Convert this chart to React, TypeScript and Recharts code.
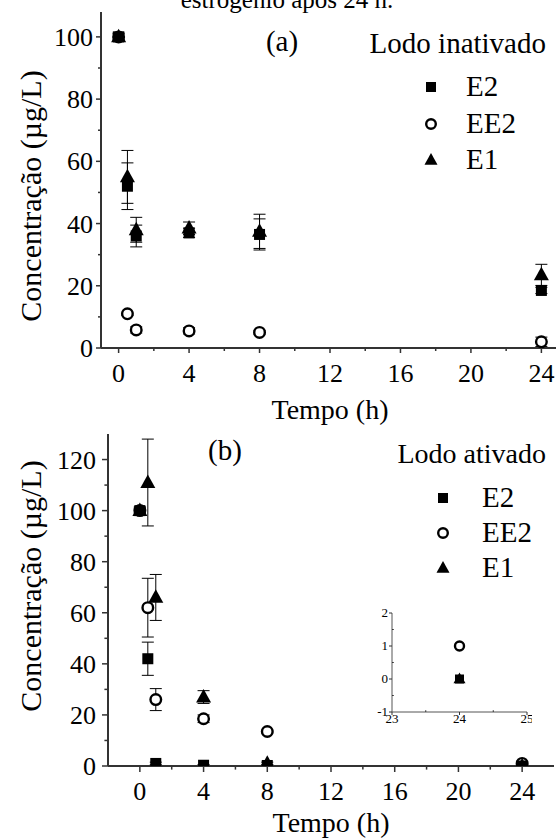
import React from 'react';
import { ScatterChart, Scatter, XAxis, YAxis, ErrorBar, Legend } from 'recharts';

const FONT = 'Liberation Serif';

// tempo de coleta (h)
const tempo = [0, 0.5, 1, 4, 8, 24];

// (a) lodo inativado
const e2A = [100, 52, 36, 37, 36.5, 18.5];
const e2AErr = [1, 7.5, 3.5, 1.5, 5, 1];
const ee2A = [100, 11, 5.8, 5.5, 5, 2];
const ee2AErr = [1, 0.5, 1, 1, 0.5, 1.5];
const e1A = [100, 55, 38, 38.5, 37.5, 23.5];
const e1AErr = [1.5, 8.5, 4, 2, 5.5, 3.4];

// (b) lodo ativado
const e2B = [100, 42, 1, 0.3, 0.2, 0];
const e2BErr = [1, 6.5, 0.5, 0.3, 0.2, 0];
const ee2B = [100, 62, 26, 18.5, 13.5, 1];
const ee2BErr = [1, 11.5, 4.3, 1.5, 0.5, 0.5];
const e1B = [100, 111, 66, 27, 1, 0];
const e1BErr = [1.5, 17, 9, 2.5, 0.5, 0];

// detalhe em 24 h
const tempoInset = [24];
const e2Inset = [0];
const ee2Inset = [1];
const e1Inset = [0];

const xTicks = [0, 2, 4, 6, 8, 10, 12, 14, 16, 18, 20, 22, 24];
const yTicksA = [0, 10, 20, 30, 40, 50, 60, 70, 80, 90, 100];
const yTicksB = [0, 10, 20, 30, 40, 50, 60, 70, 80, 90, 100, 110, 120];
const insetXTicks = [23, 23.5, 24, 24.5, 25];
const insetYTicks = [-1, -0.5, 0, 0.5, 1, 1.5, 2];

const legendOrder = ['E2', 'EE2', 'E1'];

const toRows = (xs: number[], ys: number[], errs?: number[]) =>
  xs.map((t, i) => ({ t, v: ys[i], e: errs ? errs[i] : 0 }));

const isMajor = (v: number, step: number) => Math.abs(v / step - Math.round(v / step)) < 1e-6;

const txt = (fs: number) => ({ fontFamily: FONT, fontSize: fs, fill: '#000' });

// marcadores
const Square = ({ cx, cy, s = 11 }: any) => (
  <rect x={cx - s / 2} y={cy - s / 2} width={s} height={s} fill="#000" />
);
const Circle = ({ cx, cy, r = 5.3 }: any) => (
  <circle cx={cx} cy={cy} r={r} fill="#fff" stroke="#000" strokeWidth={2.4} />
);
const Triangle = ({ cx, cy, s = 15 }: any) => {
  const h = s * 0.9;
  return (
    <polygon
      points={`${cx},${cy - h * 0.6} ${cx + s / 2},${cy + h * 0.4} ${cx - s / 2},${cy + h * 0.4}`}
      fill="#000"
    />
  );
};

const markerFor = (name: string, cx: number, cy: number) => {
  if (name === 'E2') return <Square cx={cx} cy={cy} s={10} />;
  if (name === 'EE2') return <Circle cx={cx} cy={cy} r={4.8} />;
  return <Triangle cx={cx} cy={cy} s={13} />;
};

// ticks com marcas menores
const makeXTick = (step: number, len: number, dy: number, fs: number, minorIn = false) => (p: any) => {
  const { x, y, payload } = p;
  const v = payload.value;
  const major = isMajor(v, step);
  const y2 = major ? y + len : minorIn ? y - len * 0.6 : y + len * 0.6;
  return (
    <g>
      <line x1={x} x2={x} y1={y} y2={y2} stroke="#333" strokeWidth={minorIn ? 1 : 1.5} />
      {major && (
        <text x={x} y={y + dy} textAnchor="middle" style={txt(fs)}>
          {String(v)}
        </text>
      )}
    </g>
  );
};

const makeYTick = (step: number, len: number, gap: number, dy: number, fs: number, minorIn = false) => (p: any) => {
  const { x, y, payload } = p;
  const v = payload.value;
  const major = isMajor(v, step);
  const x2 = major ? x - len : minorIn ? x + len * 0.6 : x - len * 0.6;
  return (
    <g>
      <line x1={x} x2={x2} y1={y} y2={y} stroke="#333" strokeWidth={minorIn ? 1 : 1.5} />
      {major && (
        <text x={x - gap} y={y + dy} textAnchor="end" style={txt(fs)}>
          {String(v)}
        </text>
      )}
    </g>
  );
};

const makeLegend = (title: string, titleFs: number, titleX: number, titleY: number, mx: number, tx: number, rows: number[]) =>
  (props: any) => {
    const items = [...(props.payload || [])].sort(
      (a: any, b: any) => legendOrder.indexOf(a.value) - legendOrder.indexOf(b.value)
    );
    return (
      <svg width={200} height={170} style={{ overflow: 'visible' }}>
        <text x={titleX} y={titleY} textAnchor="end" style={txt(titleFs)}>
          {title}
        </text>
        {items.map((it: any, i: number) => (
          <g key={it.value}>
            {markerFor(it.value, mx, rows[i] - 9)}
            <text x={tx} y={rows[i]} style={txt(29)}>
              {it.value}
            </text>
          </g>
        ))}
      </svg>
    );
  };

const axisLine = { stroke: '#333', strokeWidth: 2 };

const App: React.FC = () => {
  return (
    <div style={{ position: 'absolute', left: 0, top: 0, width: 556, height: 838, overflow: 'hidden', background: '#fff' }}>
      {/* (a) lodo inativado */}
      <div style={{ position: 'absolute', left: 0, top: 0 }}>
        <ScatterChart width={560} height={400} margin={{ top: 12, right: 1, bottom: 0, left: 0 }}>
          <XAxis
            type="number" dataKey="t" domain={[-1, 25]} ticks={xTicks} interval={0}
            height={52} tickSize={0} tickMargin={0} tickLine={false} axisLine={axisLine}
            tick={makeXTick(4, 5, 34, 26)} allowDataOverflow
          />
          <YAxis
            type="number" dataKey="v" domain={[0, 108]} ticks={yTicksA} interval={0}
            width={101} tickSize={0} tickMargin={0} tickLine={false} axisLine={axisLine}
            tick={makeYTick(20, 5, 8, 9, 26)} allowDataOverflow
          />
          <Legend
            layout="horizontal" align="center" verticalAlign="middle"
            wrapperStyle={{ left: 360, top: 20, width: 200, height: 170 }}
            content={makeLegend('Lodo inativado', 29, 186, 33, 71, 106, [76, 113, 149])}
          />
          <Scatter name="EE2" data={toRows(tempo, ee2A, ee2AErr)} isAnimationActive={false}
            shape={(p: any) => <Circle cx={p.cx} cy={p.cy} />}>
            <ErrorBar dataKey="e" direction="y" width={6} stroke="#000" strokeWidth={1} />
          </Scatter>
          <Scatter name="E2" data={toRows(tempo, e2A, e2AErr)} isAnimationActive={false}
            shape={(p: any) => <Square cx={p.cx} cy={p.cy} />}>
            <ErrorBar dataKey="e" direction="y" width={6} stroke="#000" strokeWidth={1} />
          </Scatter>
          <Scatter name="E1" data={toRows(tempo, e1A, e1AErr)} isAnimationActive={false}
            shape={(p: any) => <Triangle cx={p.cx} cy={p.cy} />}>
            <ErrorBar dataKey="e" direction="y" width={6} stroke="#000" strokeWidth={1} />
          </Scatter>
        </ScatterChart>
      </div>

      {/* (b) lodo ativado */}
      <div style={{ position: 'absolute', left: 0, top: 400 }}>
        <ScatterChart width={560} height={438} margin={{ top: 34, right: 6, bottom: 0, left: 0 }}>
          <XAxis
            type="number" dataKey="t" domain={[-2, 26]} ticks={xTicks} interval={0}
            height={72} tickSize={0} tickMargin={0} tickLine={false} axisLine={axisLine}
            tick={makeXTick(4, 6, 34, 26)} allowDataOverflow
          />
          <YAxis
            type="number" dataKey="v" domain={[0, 130]} ticks={yTicksB} interval={0}
            width={108} tickSize={0} tickMargin={0} tickLine={false} axisLine={axisLine}
            tick={makeYTick(20, 6, 12, 9, 26)} allowDataOverflow
          />
          <Legend
            layout="horizontal" align="center" verticalAlign="middle"
            wrapperStyle={{ left: 360, top: 30, width: 200, height: 170 }}
            content={makeLegend('Lodo ativado', 28, 186, 33, 83, 122, [77, 112, 147])}
          />
          <Scatter name="EE2" data={toRows(tempo, ee2B, ee2BErr)} isAnimationActive={false}
            shape={(p: any) => <Circle cx={p.cx} cy={p.cy} />}>
            <ErrorBar dataKey="e" direction="y" width={6} stroke="#000" strokeWidth={1} />
          </Scatter>
          <Scatter name="E2" data={toRows(tempo, e2B, e2BErr)} isAnimationActive={false}
            shape={(p: any) => <Square cx={p.cx} cy={p.cy} />}>
            <ErrorBar dataKey="e" direction="y" width={6} stroke="#000" strokeWidth={1} />
          </Scatter>
          <Scatter name="E1" data={toRows(tempo, e1B, e1BErr)} isAnimationActive={false}
            shape={(p: any) => <Triangle cx={p.cx} cy={p.cy} />}>
            <ErrorBar dataKey="e" direction="y" width={6} stroke="#000" strokeWidth={1} />
          </Scatter>
        </ScatterChart>
      </div>

      {/* detalhe 24 h */}
      <div style={{ position: 'absolute', left: 352, top: 600 }}>
        <ScatterChart width={180} height={140} margin={{ top: 13, right: 5, bottom: 0, left: 0 }}>
          <XAxis
            type="number" dataKey="t" domain={[23, 25]} ticks={insetXTicks} interval={0}
            height={28} tickSize={0} tickMargin={0} tickLine={false} axisLine={{ stroke: '#555', strokeWidth: 1 }}
            tick={makeXTick(1, 3, 11, 13, true)} allowDataOverflow
          />
          <YAxis
            type="number" dataKey="v" domain={[-1, 2]} ticks={insetYTicks} interval={0}
            width={40} tickSize={0} tickMargin={0} tickLine={false} axisLine={{ stroke: '#555', strokeWidth: 1 }}
            tick={makeYTick(1, 3, 4, 4, 13, true)} allowDataOverflow
          />
          <Scatter name="EE2" data={toRows(tempoInset, ee2Inset)} isAnimationActive={false}
            shape={(p: any) => <Circle cx={p.cx} cy={p.cy} r={4.5} />} />
          <Scatter name="E2" data={toRows(tempoInset, e2Inset)} isAnimationActive={false}
            shape={(p: any) => <Square cx={p.cx} cy={p.cy} s={9} />} />
          <Scatter name="E1" data={toRows(tempoInset, e1Inset)} isAnimationActive={false}
            shape={(p: any) => <Triangle cx={p.cx} cy={p.cy} s={12} />} />
        </ScatterChart>
      </div>

      {/* textos */}
      <svg width={556} height={838} style={{ position: 'absolute', left: 0, top: 0, pointerEvents: 'none' }}>
        <text x={287} y={8} textAnchor="middle" style={txt(25)}>estrogênio após 24 h.</text>
        <text x={282} y={51} textAnchor="middle" style={txt(29)}>(a)</text>
        <text x={225} y={460} textAnchor="middle" style={txt(29)}>(b)</text>
        <text x={330} y={419} textAnchor="middle" style={txt(28)}>Tempo (h)</text>
        <text x={331} y={832} textAnchor="middle" style={txt(28)}>Tempo (h)</text>
        <text x={30} y={196} transform="rotate(-90 30 196)" textAnchor="middle" dominantBaseline="central"
          style={txt(30)}>Concentração (µg/L)</text>
        <text x={30} y={586} transform="rotate(-90 30 586)" textAnchor="middle" dominantBaseline="central"
          style={txt(30)}>Concentração (µg/L)</text>
      </svg>
    </div>
  );
};

export default App;
